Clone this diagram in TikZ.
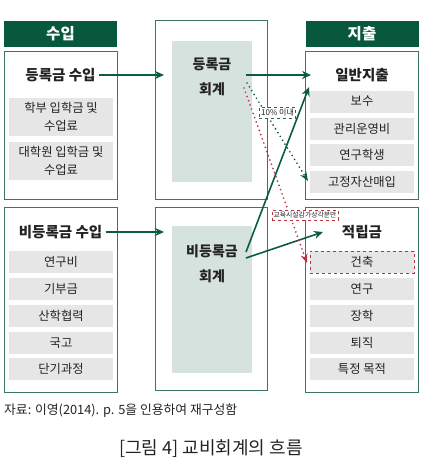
\documentclass[tikz,border=0pt]{standalone}
\usepackage{fontspec}
\setmainfont{Noto Sans CJK KR}
\usetikzlibrary{arrows.meta,positioning}
\definecolor{headgreen}{RGB}{8, 88, 62}
\definecolor{linegreen}{RGB}{60, 118, 96}
\definecolor{arrowgreen}{RGB}{10, 92, 66}
\definecolor{itemgray}{RGB}{230, 230, 230}
\definecolor{mintgray}{RGB}{214, 226, 222}
\definecolor{accentred}{RGB}{185, 52, 62}
\definecolor{darktext}{RGB}{35, 35, 35}

\begin{document}
\begin{tikzpicture}[x=1pt, y=-1pt,
    header/.style={fill=headgreen, text=white, font=\bfseries\fontsize{15.5}{17}\selectfont, minimum width=113, minimum height=26, inner sep=0},
    panel/.style={draw=linegreen, line width=0.8pt, minimum width=113, inner sep=0},
    midpanel/.style={draw=linegreen, line width=0.8pt, minimum width=112, inner sep=0},
    core/.style={fill=mintgray, minimum width=80, inner sep=0},
    itembox/.style={fill=itemgray, minimum width=104, minimum height=22, inner sep=0, align=center, text=darktext, font=\fontsize{12.3}{18}\selectfont},
    title/.style={text=darktext, font=\bfseries\fontsize{14.5}{17}\selectfont},
    coretext/.style={text=darktext, align=center, font=\bfseries\fontsize{14}{25}\selectfont},
    flow/.style={arrowgreen, line width=1.6pt, -{Stealth[length=9pt, width=8pt]}},
    dotflow/.style={line width=1.9pt, line cap=round, dash pattern=on 0pt off 4.5pt, -{Stealth[length=9pt, width=7pt]}},
    tag/.style={draw, dashed, line width=0.7pt, fill=white, inner sep=1.8pt, text=darktext}]
    \useasboundingbox (0,0) rectangle (422,460);

    % Income column
    \node[header] (hIn) at (60.5,34) {수입};
    \node[panel, minimum height=148] (pTuit) at (60.5,125) {};
    \node[title] (tTuit) at (60.5,75) {등록금 수입};
    \node[itembox, minimum height=38] (iUnder) at (61,117) {학부 입학금 및\\수업료};
    \node[itembox, minimum height=38] (iGrad) at (61,161) {대학원 입학금 및\\수업료};

    \node[panel, minimum height=185] (pNon) at (60.5,299.5) {};
    \node[title] (tNon) at (60.5,232) {비등록금 수입};
    \node[itembox] (iRes) at (61,262) {연구비};
    \node[itembox] (iDon) at (61,289) {기부금};
    \node[itembox] (iInd) at (61,316) {산학협력};
    \node[itembox] (iGov) at (61,343) {국고};
    \node[itembox] (iShort) at (61,369) {단기과정};

    % Accounts column
    \node[midpanel, minimum height=179] (mTuit) at (211,109.5) {};
    \node[core, minimum height=141] (cTuit) at (212,111.5) {};
    \node[coretext] (aTuit) at (212,77) {등록금\\회계};
    \node[midpanel, minimum height=183] (mNon) at (211,298.5) {};
    \node[core, minimum height=147] (cNon) at (212,299.5) {};
    \node[coretext] (aNon) at (212,263.5) {비등록금\\회계};

    % Expense column
    \node[header] (hOut) at (362,34) {지출};
    \node[panel, minimum height=148] (pGen) at (362,125) {};
    \node[title] (tGen) at (362,75) {일반지출};
    \node[itembox] (oPay) at (362,101.5) {보수};
    \node[itembox] (oAdm) at (362,128.5) {관리운영비};
    \node[itembox] (oStu) at (362,155) {연구학생};
    \node[itembox] (oAsset) at (362,181.5) {고정자산매입};

    \node[panel, minimum height=185] (pRes) at (362,299.5) {};
    \node[title] (tRes) at (362,232) {적립금};
    \node[itembox, draw=accentred, dashed, line width=0.8pt] (oBuild) at (362,262) {건축};
    \node[itembox] (oResr) at (362,289) {연구};
    \node[itembox] (oSchol) at (362,316) {장학};
    \node[itembox] (oRet) at (362,343) {퇴직};
    \node[itembox] (oSpec) at (362,369) {특정 목적};

    % Arrow ends
    \coordinate (toTuit) at (164,75);
    \coordinate (toNon) at (164,232);
    \coordinate (fromTuit) at (246,75);
    \coordinate (toGen) at (311,75);
    \coordinate (fromNonA) at (246,252);
    \coordinate (toGenB) at (309,87);
    \coordinate (fromNonB) at (246,258);
    \coordinate (toRes) at (323,232);
    \coordinate (dotG) at (247,83);
    \coordinate (toAsset) at (308,181);
    \coordinate (dotR) at (244,88);
    \coordinate (toBuild) at (307,263);

    % Connectors
    \draw[flow] (tTuit.east) -- (toTuit);
    \draw[flow] (tNon.east) -- (toNon);
    \draw[flow] (fromTuit) -- (toGen);
    \draw[flow] (fromNonA) -- (toGenB);
    \draw[flow] (fromNonB) -- (toRes);
    \draw[dotflow, arrowgreen] (dotG) -- (toAsset);
    \draw[dotflow, accentred] (dotR) -- (toBuild);

    % Labels on dotted lines
    \node[tag, draw=arrowgreen!70!gray, font=\fontsize{8}{9}\selectfont] (lTen) at (277.5,113) {10\% 이내};
    \node[tag, draw=accentred, font=\fontsize{6.8}{8}\selectfont] (lDep) at (305,215) {교육시설감가상각분만};

    % Source and caption
    \node[anchor=west, text=darktext, font=\fontsize{12.8}{14}\selectfont, inner sep=0] (src) at (4,411) {자료: 이영(2014). p. 5을 인용하여 재구성함};
    \node[text=darktext, font=\fontsize{18}{20}\selectfont, inner sep=0] (cap) at (211,449) {[그림 4] 교비회계의 흐름};
\end{tikzpicture}
\end{document}
